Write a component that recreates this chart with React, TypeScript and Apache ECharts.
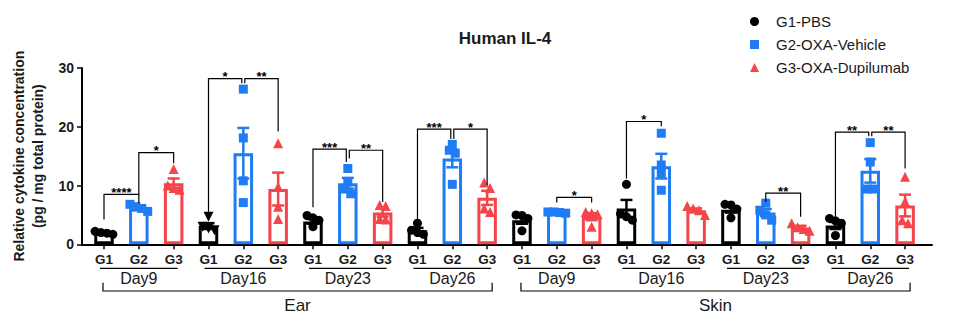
import React, { useEffect, useRef } from 'react';
import * as echarts from 'echarts';

const TITLE = 'Human IL-4';
const GROUPS = ['G1', 'G2', 'G3'];
const GROUP_NAMES = ['G1-PBS', 'G2-OXA-Vehicle', 'G3-OXA-Dupilumab'];
const DAYS = ['Day9', 'Day16', 'Day23', 'Day26'];
const TISSUES = ['Ear', 'Skin'];
const Y_MIN = 0;
const Y_MAX = 30;
const Y_STEP = 10;
const Y_NAME = 'Relative cytokine concentration\n(pg / mg total protein)';

// order: tissue -> day -> group (G1, G2, G3)
const MEANS = [
  1.95, 6.1, 10.4, 3.1, 15.5, 9.4, 3.9, 10.4, 5.4, 2.4, 14.6, 7.9,
  4.1, 5.4, 4.7, 6.1, 13.3, 5.8, 5.9, 5.4, 2.85, 3.2, 12.5, 6.6,
];
const SEMS = [
  0.1, 0.25, 0.8, 0.5, 4.3, 2.8, 0.4, 0.9, 0.7, 0.4, 1.5, 1.2,
  0.6, 0.05, 0.6, 1.45, 2.1, 0.3, 0.5, 0.6, 0.3, 0.6, 2.0, 1.85,
];
const POINTS = [
  [2.2, 2.0, 1.9, 1.7],
  [6.8, 6.4, 6.1, 5.6],
  [12.8, 10.0, 9.6, 9.3],
  [4.7, 3.0, 2.7, 2.4],
  [26.4, 18.1, 10.8, 7.1],
  [17.2, 9.8, 6.4, 4.3],
  [4.9, 4.5, 4.1, 3.0],
  [12.9, 10.6, 9.4, 8.6],
  [6.7, 6.5, 4.3, 4.2],
  [3.6, 2.4, 2.0, 1.7],
  [17.0, 16.0, 15.5, 10.2],
  [10.5, 9.6, 6.1, 5.5],
  [5.0, 4.9, 4.4, 2.3],
  [5.5, 5.5, 5.4, 5.3],
  [5.5, 5.3, 5.1, 3.0],
  [10.2, 5.2, 4.7, 4.1],
  [18.9, 13.5, 12.1, 9.2],
  [6.5, 6.1, 5.8, 5.0],
  [6.8, 6.7, 6.0, 4.5],
  [7.0, 5.8, 5.0, 4.1],
  [3.6, 2.9, 2.6, 2.3],
  [4.4, 4.0, 3.6, 1.5],
  [17.3, 14.0, 9.4, 9.4],
  [11.5, 7.3, 4.1, 3.6],
];
// Ear Day16 G1 markers are drawn as inverted triangles in the original
const INVERTED_BARS = [3];

// significance brackets: [bar a, bar b, top, left leg end, right leg end]
const BRACKETS = [
  [0, 1, 8.5, 4.2, 7.0],
  [1, 2, 15.6, 8.5, 13.8],
  [3, 4, 28.2, 4.9, 27.4],
  [4, 5, 28.2, 27.4, 19.2],
  [6, 7, 16.2, 6.3, 14.0],
  [7, 8, 16.0, 14.6, 7.2],
  [9, 10, 19.6, 3.6, 17.9],
  [10, 11, 19.6, 17.9, 10.1],
  [13, 14, 8.0, 7.1, 7.1],
  [15, 16, 20.9, 11.2, 20.1],
  [19, 20, 8.7, 7.2, 4.7],
  [21, 22, 19.1, 4.7, 18.4],
  [22, 23, 19.1, 18.4, 12.9],
];
const STARS = ['****', '*', '*', '**', '***', '**', '***', '*', '*', '*', '**', '**', '**'];

const COLORS = ['#000000', '#1F7CF4', '#F5444A'];
const SYMBOLS = ['circle', 'rect', 'triangle'];
const FONT = '"Liberation Sans", Arial, sans-serif';
const TEXT = '#1a1a1a';

// layout
const AX_LEFT = 82;
const AX_RIGHT = 932;
const FIRST_X = 104;
const STEP = 34.83;
const GRID_TOP = 68;
const GRID_H = 176.3;

function spread(vals: number[]): number[] {
  const order = vals.map((_, i) => i).sort((a, b) => vals[b] - vals[a]);
  const offs = new Array(vals.length).fill(0);
  let i = 0;
  while (i < order.length) {
    let j = i;
    while (j + 1 < order.length && vals[order[j]] - vals[order[j + 1]] < 1.0) j++;
    const n = j - i + 1;
    for (let k = 0; k < n; k++) offs[order[i + k]] = (k - (n - 1) / 2) * 0.17;
    i = j + 1;
  }
  return offs;
}

export default function App() {
  const ref = useRef<HTMLDivElement>(null);
  useEffect(() => {
    if (!ref.current) return;
    const chart = echarts.init(ref.current, null, { renderer: 'svg' });
    const nBars = MEANS.length;
    const categories: string[] = [];
    TISSUES.forEach(() => DAYS.forEach(() => GROUPS.forEach((g) => categories.push(g))));

    const dayGroups: number[][] = [];
    const tissueGroups: number[][] = [];
    TISSUES.forEach((_, t) => {
      tissueGroups.push([t * 12, t * 12 + 11]);
      DAYS.forEach((_, d) => dayGroups.push([t * 12 + d * 3, t * 12 + d * 3 + 2]));
    });

    const scatterSeries = GROUPS.map((_, g) => {
      const data: any[] = [];
      for (let k = g; k < nBars; k += 3) {
        const offs = spread(POINTS[k]);
        POINTS[k].forEach((v, p) => {
          const item: any = { value: [k + offs[p], v] };
          if (INVERTED_BARS.includes(k)) {
            item.symbol = 'triangle';
            item.symbolRotate = 180;
            item.symbolSize = 10;
          }
          data.push(item);
        });
      }
      return {
        type: 'scatter',
        name: GROUP_NAMES[g],
        xAxisIndex: 1,
        yAxisIndex: 1,
        symbol: SYMBOLS[g],
        symbolSize: g === 2 ? 10 : 9,
        itemStyle: { color: COLORS[g], opacity: 1 },
        z: 4,
        data,
      };
    });

    const option: any = {
      animation: false,
      title: {
        text: TITLE,
        left: 505,
        top: 30,
        padding: 0,
        textAlign: 'center',
        textStyle: { fontFamily: FONT, fontSize: 17, fontWeight: 'bold', color: TEXT },
      },
      legend: {
        orient: 'vertical',
        left: 745,
        top: 9,
        itemWidth: 9,
        itemHeight: 9,
        itemGap: 8,
        data: GROUP_NAMES.map((n, g) => ({ name: n, icon: SYMBOLS[g] })),
        textStyle: { fontFamily: FONT, fontSize: 15, color: TEXT, padding: [0, 0, 0, 12] },
      },
      grid: [
        { left: FIRST_X - STEP / 2, width: STEP * nBars, top: GRID_TOP, height: GRID_H },
        { left: AX_LEFT, width: AX_RIGHT - AX_LEFT, top: GRID_TOP, height: GRID_H },
      ],
      xAxis: [
        {
          type: 'category',
          gridIndex: 0,
          data: categories,
          axisLine: { show: false },
          axisTick: { show: true, alignWithLabel: true, length: 5, lineStyle: { color: '#000', width: 1.5 } },
          axisLabel: { margin: 8, fontFamily: FONT, fontSize: 13.5, fontWeight: 'bold', color: TEXT },
          splitLine: { show: false },
        },
        {
          type: 'value',
          gridIndex: 1,
          min: (AX_LEFT - FIRST_X) / STEP,
          max: (AX_RIGHT - FIRST_X) / STEP,
          axisLine: { show: true, onZero: false, lineStyle: { color: '#000', width: 2 } },
          axisTick: { show: false },
          axisLabel: { show: false },
          splitLine: { show: false },
        },
      ],
      yAxis: [
        { type: 'value', gridIndex: 0, min: Y_MIN, max: Y_MAX, show: false },
        {
          type: 'value',
          gridIndex: 1,
          min: Y_MIN,
          max: Y_MAX,
          interval: Y_STEP,
          name: Y_NAME,
          nameLocation: 'middle',
          nameGap: 26,
          nameTextStyle: { fontFamily: FONT, fontSize: 14, fontWeight: 'bold', color: TEXT, lineHeight: 19 },
          axisLine: { show: true, onZero: false, lineStyle: { color: '#000', width: 2 } },
          axisTick: { show: true, length: 5, lineStyle: { color: '#000', width: 1.5 } },
          axisLabel: { margin: 8, fontFamily: FONT, fontSize: 14, fontWeight: 'bold', color: TEXT },
          splitLine: { show: false },
        },
      ],
      series: [
        {
          type: 'bar',
          xAxisIndex: 0,
          yAxisIndex: 0,
          barWidth: 19.5,
          z: 2,
          data: MEANS.map((m, k) => ({ value: m, itemStyle: { borderColor: COLORS[k % 3] } })),
          itemStyle: { color: 'rgba(255,255,255,0)', borderWidth: 3 },
        },
        {
          type: 'custom',
          xAxisIndex: 1,
          yAxisIndex: 1,
          z: 3,
          data: MEANS.map((m, k) => [k, m, SEMS[k]]),
          renderItem: (params: any, api: any) => {
            const x = api.value(0);
            const m = api.value(1);
            const s = api.value(2);
            const t = api.coord([x, m + s]);
            const b = api.coord([x, m - s]);
            const c = COLORS[params.dataIndex % 3];
            const hw = 6;
            const st = { stroke: c, lineWidth: 2.5 };
            return {
              type: 'group',
              children: [
                { type: 'line', shape: { x1: t[0], y1: t[1], x2: b[0], y2: b[1] }, style: st },
                { type: 'line', shape: { x1: t[0] - hw, y1: t[1], x2: t[0] + hw, y2: t[1] }, style: st },
                { type: 'line', shape: { x1: b[0] - hw, y1: b[1], x2: b[0] + hw, y2: b[1] }, style: st },
              ],
            };
          },
        },
        ...scatterSeries,
        {
          type: 'custom',
          xAxisIndex: 1,
          yAxisIndex: 1,
          z: 5,
          data: BRACKETS,
          renderItem: (params: any, api: any) => {
            const idx = params.dataIndex;
            const [a, b, top, yl, yr] = BRACKETS[idx];
            let dl = 0;
            let dr = 0;
            BRACKETS.forEach((o, k) => {
              if (k === idx) return;
              if (o[1] === a && Math.abs(o[2] - top) < 1) dl = 1.5;
              if (o[0] === b && Math.abs(o[2] - top) < 1) dr = -1.5;
            });
            const pl = api.coord([a, yl]);
            const pr = api.coord([b, yr]);
            const pt = api.coord([a, top]);
            const xl = pl[0] + dl;
            const xr = pr[0] + dr;
            return {
              type: 'group',
              children: [
                {
                  type: 'polyline',
                  shape: { points: [[xl, pl[1]], [xl, pt[1]], [xr, pt[1]], [xr, pr[1]]] },
                  style: { stroke: '#000', lineWidth: 1.2, fill: 'none' },
                },
                {
                  type: 'text',
                  style: {
                    text: STARS[idx],
                    x: (xl + xr) / 2,
                    y: pt[1] - 2,
                    align: 'center',
                    verticalAlign: 'middle',
                    font: `bold 13px ${FONT}`,
                    fill: '#000',
                  },
                },
              ],
            };
          },
        },
        {
          type: 'custom',
          xAxisIndex: 1,
          yAxisIndex: 1,
          clip: false,
          silent: true,
          data: dayGroups,
          renderItem: (params: any, api: any) => {
            const p1 = api.coord([api.value(0), 0]);
            const p2 = api.coord([api.value(1), 0]);
            const y0 = p1[1];
            return {
              type: 'group',
              children: [
                {
                  type: 'line',
                  shape: { x1: p1[0] - 4, y1: y0 + 24, x2: p2[0] + 4, y2: y0 + 24 },
                  style: { stroke: '#000', lineWidth: 1.2 },
                },
                {
                  type: 'text',
                  style: {
                    text: DAYS[params.dataIndex % DAYS.length],
                    x: (p1[0] + p2[0]) / 2,
                    y: y0 + 34,
                    align: 'center',
                    verticalAlign: 'middle',
                    font: `16px ${FONT}`,
                    fill: TEXT,
                  },
                },
              ],
            };
          },
        },
        {
          type: 'custom',
          xAxisIndex: 1,
          yAxisIndex: 1,
          clip: false,
          silent: true,
          data: tissueGroups,
          renderItem: (params: any, api: any) => {
            const p1 = api.coord([api.value(0), 0]);
            const p2 = api.coord([api.value(1), 0]);
            const y0 = p1[1];
            const xl = p1[0] - 1;
            const xr = p2[0] + 5;
            return {
              type: 'group',
              children: [
                {
                  type: 'polyline',
                  shape: { points: [[xl, y0 + 38.5], [xl, y0 + 46.7], [xr, y0 + 46.7], [xr, y0 + 38.5]] },
                  style: { stroke: '#000', lineWidth: 1.2, fill: 'none' },
                },
                {
                  type: 'text',
                  style: {
                    text: TISSUES[params.dataIndex],
                    x: (xl + xr) / 2,
                    y: y0 + 61,
                    align: 'center',
                    verticalAlign: 'middle',
                    font: `17px ${FONT}`,
                    fill: TEXT,
                  },
                },
              ],
            };
          },
        },
      ],
    };
    chart.setOption(option);
    return () => chart.dispose();
  }, []);
  return <div ref={ref} style={{ width: 977, height: 329, position: 'absolute', left: 0, top: 0 }} />;
}
